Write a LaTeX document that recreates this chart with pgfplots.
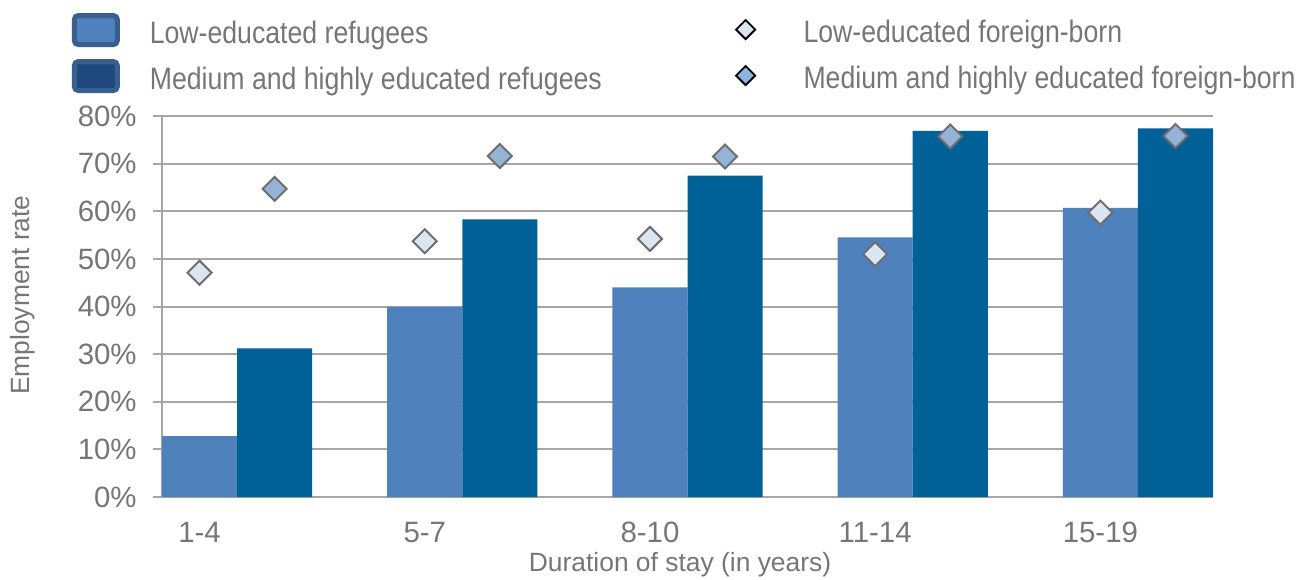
\documentclass[border=0pt]{standalone}
\usepackage{fontspec}
\setmainfont{Liberation Sans}
\newfontfamily\legfont[FakeStretch=0.86]{Liberation Sans}
\usepackage{pgfplots}
\usepackage{pgfplotstable}
\pgfplotsset{compat=1.18}

\definecolor{lowref}{HTML}{4F81BD}
\definecolor{medref}{HTML}{006098}
\definecolor{lowfb}{HTML}{DCE6F2}
\definecolor{medfb}{HTML}{95B3D7}
\definecolor{legmedfb}{HTML}{8DB4E2}
\definecolor{legmed}{HTML}{1F497D}
\definecolor{legedge}{HTML}{3A5F8F}
\definecolor{txt}{RGB}{118,118,118}
\definecolor{gridc}{RGB}{166,166,166}
\definecolor{diaedge}{RGB}{110,110,110}

% employment rate of refugees (bars), by duration of stay
\pgfplotstableread{
xl  xm  low   med
0   1   12.8  31.2
3   4   39.9  58.3
6   7   44.0  67.5
9   10  54.5  76.9
12  13  60.7  77.4
}\refugees

% employment rate of all foreign-born (diamonds)
\pgfplotstableread{
xl  xm  low   med
0   1   47.1  64.7
3   4   53.7  71.6
6   7   54.2  71.5
9   10  51.0  75.7
12  13  59.7  75.8
}\foreignborn

\pgfplotsset{
  frame/.style={
    at={(0pt,0pt)}, anchor=south west,
    scale only axis, width=525.5pt, height=190.5pt,
    xmin=-0.5, xmax=13.5, ymin=0, ymax=80,
  },
  legtext/.style={
    legend cell align=left,
    legend style={
      anchor=north west, draw=none, fill=none,
      inner sep=0pt, outer sep=0pt,
      row sep={23pt,between origins},
      nodes={inner sep=0pt, outer sep=0pt, text height=11pt, text depth=3pt,
             font=\legfont\fontsize{15.5}{17}\selectfont, text=txt},
    },
  },
}

\begin{document}
\begin{tikzpicture}
\path[use as bounding box] (-81pt,-41pt) rectangle (567.5pt,248.5pt);

\begin{axis}[
  frame, legtext,
  axis x line*=bottom, axis y line*=left,
  axis line style={gridc, line width=1pt},
  ytick={0,10,20,30,40,50,60,70,80},
  yticklabels={0\%,10\%,20\%,30\%,40\%,50\%,60\%,70\%,80\%},
  xtick={0,3,6,9,12},
  xticklabels={1-4,5-7,8-10,11-14,15-19},
  tick align=outside,
  major tick length=4.5pt,
  ytick style={gridc, line width=1pt},
  xtick style={draw=none},
  ymajorgrids,
  grid style={gridc, line width=1pt},
  /pgf/number format/assume math mode=true,
  tick label style={font=\fontsize{14.7}{16}\selectfont, text=txt},
  yticklabel style={anchor=east, inner sep=0pt, xshift=-8pt},
  xticklabel style={anchor=north, inner sep=0pt, yshift=-8pt},
  xlabel={Duration of stay (in years)},
  ylabel={Employment rate},
  label style={font=\fontsize{13.2}{15}\selectfont, text=txt},
  xlabel style={at={(axis description cs:0.4929,0)}, anchor=north, inner sep=0pt, yshift=-27.5pt},
  ylabel style={at={(axis description cs:-0.1323,0.530)}, anchor=center, inner sep=0pt},
  legend style={at={(axis description cs:-0.0858,1.2703)}, column sep=15pt},
]
\addplot[ybar, bar width=1, bar shift=0pt, fill=lowref, draw=none,
  legend image code/.code={\draw[draw=legedge, line width=2.5pt, fill=lowref, rounded corners=2pt] (0pt,-4.75pt) rectangle (21.5pt,9.75pt);}]
  table[x=xl, y=low] {\refugees};
\addlegendentry{Low-educated refugees}
\addplot[ybar, bar width=1, bar shift=0pt, fill=medref, draw=none,
  legend image code/.code={\draw[draw=legedge, line width=2.5pt, fill=legmed, rounded corners=2pt] (0pt,-4.75pt) rectangle (21.5pt,9.75pt);}]
  table[x=xm, y=med] {\refugees};
\addlegendentry{Medium and highly educated refugees}
\end{axis}

\begin{axis}[
  frame, legtext, hide axis, clip=false,
  legend style={at={(axis description cs:0.5453,1.2546)}, column sep=23.7pt},
]
\addplot[only marks, mark=square*, mark size=4.25pt,
  mark options={rotate=45, draw=diaedge, fill=lowfb, line width=1pt},
  legend image code/.code={\draw[black, line width=0.9pt, fill=lowfb] (-4.8pt,2.25pt) -- (0pt,7.05pt) -- (4.8pt,2.25pt) -- (0pt,-2.55pt) -- cycle;}]
  table[x=xl, y=low] {\foreignborn};
\addlegendentry{Low-educated foreign-born}
\addplot[only marks, mark=square*, mark size=4.25pt,
  mark options={rotate=45, draw=diaedge, fill=medfb, line width=1pt},
  legend image code/.code={\draw[black, line width=0.9pt, fill=legmedfb] (-4.8pt,2.25pt) -- (0pt,7.05pt) -- (4.8pt,2.25pt) -- (0pt,-2.55pt) -- cycle;}]
  table[x=xm, y=med] {\foreignborn};
\addlegendentry{Medium and highly educated foreign-born}
\end{axis}
\end{tikzpicture}
\end{document}
